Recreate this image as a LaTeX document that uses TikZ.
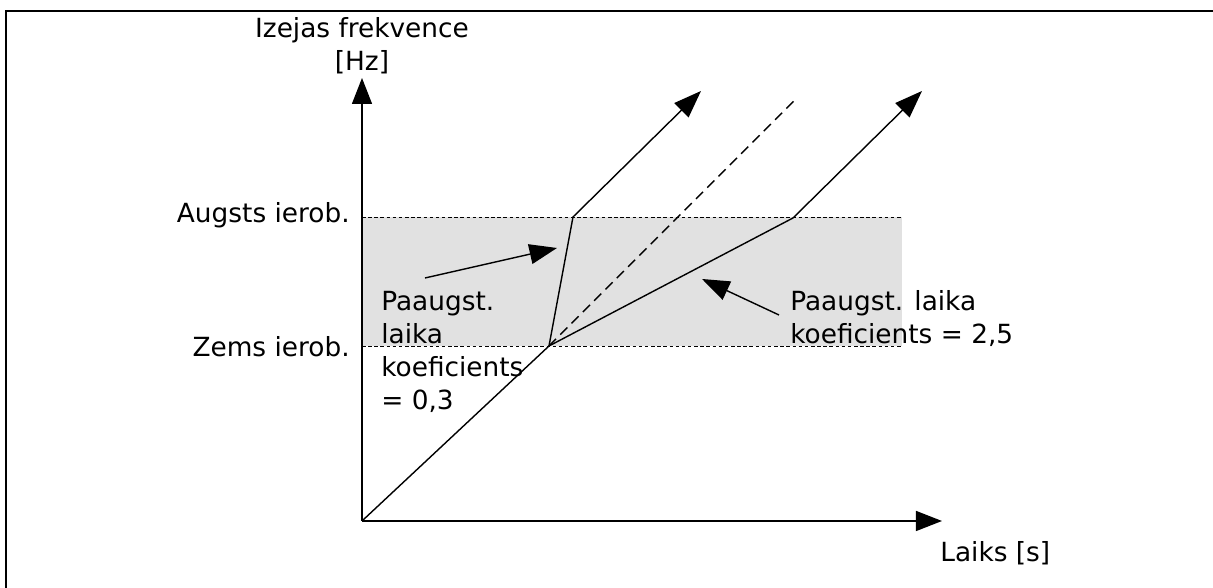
\documentclass[tikz,border=0pt]{standalone}
\usepackage{fontspec}
\setmainfont{DejaVu Sans}
\usetikzlibrary{arrows.meta}
\definecolor{bandgray}{RGB}{225,225,225}

\begin{document}
\begin{tikzpicture}[
 font=\fontsize{15}{18.8}\selectfont,
 axis/.style={-{Triangle[length=5.2mm, width=4mm]}, line width=0.8pt},
 arrow/.style={-{Triangle[length=5.5mm, width=4mm]}, line width=0.8pt},
 curve/.style={line width=0.8pt},
 limit/.style={line width=0.5pt, dash pattern=on 2pt off 1.5pt},
 label/.style={inner sep=0pt, align=left}
]
\useasboundingbox (-7.24,-1.34) rectangle (17.02,10.42);

% Frame
\draw[line width=1.2pt] (-7.12,-1.6) |- (17.3,10.2);

% Points of the ramps
\coordinate (O) at (0,0);
\coordinate (ytip) at (0,8.86);
\coordinate (xtip) at (11.6,0);
\coordinate (knee) at (3.74,3.5);
\coordinate (fast) at (4.22,6.08);
\coordinate (fasttip) at (6.78,8.6);
\coordinate (normtip) at (8.64,8.4);
\coordinate (slow) at (8.62,6.06);
\coordinate (slowtip) at (11.2,8.6);

% Band between the limits
\coordinate (lo0) at (0,3.5);
\coordinate (lo1) at (10.8,3.5);
\coordinate (hi0) at (0,6.08);
\coordinate (hi1) at (10.8,6.08);
\fill[bandgray] (lo0) rectangle (hi1);
\draw[limit] (lo0) -- (lo1);
\draw[limit] (hi0) -- (hi1);

% Axes
\draw[axis] (O) -- (ytip);
\draw[axis] (O) -- (xtip);
\node[label, align=center, anchor=south] (ylab) at ([yshift=0.08cm]ytip) {Izejas frekvence\\{}[Hz]};
\node[label, anchor=base west] (xlab) at (11.56,-0.82) {Laiks [s]};

% Limit labels
\node[label, anchor=base east] (hilab) at (-0.24,5.96) {Augsts ierob.};
\node[label, anchor=base east] (lolab) at (-0.24,3.28) {Zems ierob.};

% Ramps
\draw[curve] (O) -- (knee);
\draw[arrow] (knee) -- (fast) -- (fasttip);
\draw[curve, dash pattern=on 5.7pt off 3.4pt] (knee) -- (normtip);
\draw[arrow] (knee) -- (slow) -- (slowtip);

% Ramp time factors
\node[label, anchor=north west] (fastlab) at (0.38,4.6) {Paaugst.\\laika\\koeficients\\= 0,3};
\node[label, anchor=north west] (slowlab) at (8.56,4.62) {Paaugst. laika\\koeficients = 2,5};
\coordinate (fastfrom) at (1.26,4.86);
\coordinate (fastto) at (3.9,5.46);
\coordinate (slowfrom) at (8.34,4.12);
\coordinate (slowto) at (6.8,4.84);
\draw[arrow] (fastfrom) -- (fastto);
\draw[arrow] (slowfrom) -- (slowto);
\end{tikzpicture}
\end{document}
